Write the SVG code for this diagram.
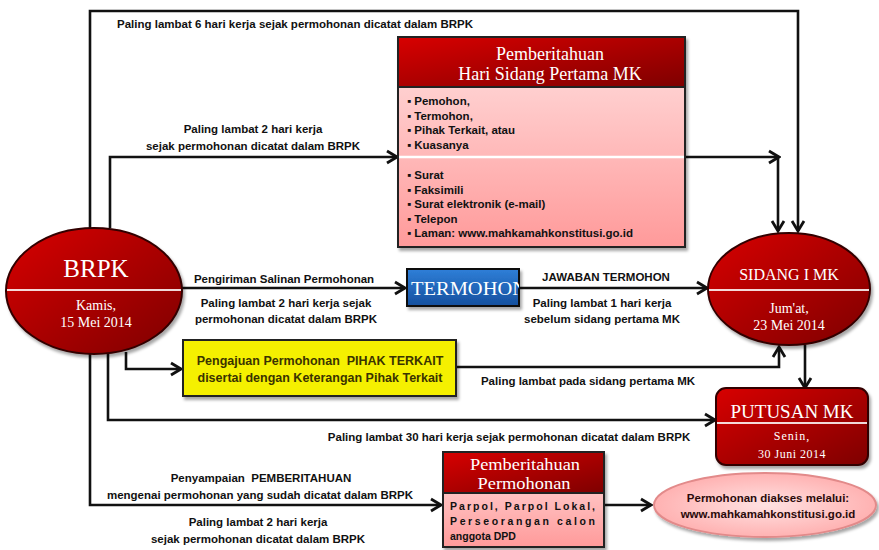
<svg xmlns="http://www.w3.org/2000/svg" width="879" height="550" viewBox="0 0 879 550">
<style>
.lbl{font-family:"Liberation Sans",Arial,sans-serif;font-size:11.5px;font-weight:bold;fill:#111;white-space:pre}
.ser{font-family:"Liberation Serif","Times New Roman",serif;fill:#fff}
.conn{fill:none;stroke:#111;stroke-width:2.6}
.bul{font-family:"Liberation Sans",Arial,sans-serif;font-size:11.5px;font-weight:bold;fill:#111}
</style>
<defs>
<linearGradient id="red" x1="0" y1="0" x2="1" y2="1">
<stop offset="0" stop-color="#d80000"/><stop offset="1" stop-color="#7e0000"/>
</linearGradient>
<linearGradient id="pinkbody" x1="0" y1="0" x2="0" y2="1">
<stop offset="0" stop-color="#ffe0e0"/><stop offset="1" stop-color="#ff9a9a"/>
</linearGradient>
<linearGradient id="blue" x1="0" y1="0" x2="0" y2="1">
<stop offset="0" stop-color="#2f7fd8"/><stop offset="1" stop-color="#154f9e"/>
</linearGradient>
<radialGradient id="pinkell" cx="0.5" cy="0.5" r="0.6">
<stop offset="0" stop-color="#ffe2e2"/><stop offset="1" stop-color="#ffa8a8"/>
</radialGradient>
<filter id="sh" x="-10%" y="-10%" width="125%" height="130%">
<feDropShadow dx="2" dy="3" stdDeviation="1.5" flood-color="#000" flood-opacity="0.35"/>
</filter>
<marker id="arr" markerUnits="userSpaceOnUse" markerWidth="16" markerHeight="16" viewBox="0 0 16 16" refX="14" refY="8" orient="auto">
<path d="M4,2 L14,8 L4,14" fill="none" stroke="#111" stroke-width="2.8"/>
</marker>
<clipPath id="tclip"><rect x="407" y="269" width="112" height="37"/></clipPath>
</defs>

<g id="connectors">
<path class="conn" d="M90,228 V11 H798 V231" marker-end="url(#arr)"/>
<path class="conn" d="M110,228 V157 H397" marker-end="url(#arr)"/>
<path class="conn" d="M686,157 H779" marker-end="url(#arr)"/>
<path class="conn" d="M778,157 V231" marker-end="url(#arr)"/>
<path class="conn" d="M182,288 H405" marker-end="url(#arr)"/>
<path class="conn" d="M520,288 H707" marker-end="url(#arr)"/>
<path class="conn" d="M126,352 V369 H181" marker-end="url(#arr)"/>
<path class="conn" d="M457,367 H779 V347" marker-end="url(#arr)"/>
<path class="conn" d="M108,354 V420 H715" marker-end="url(#arr)"/>
<path class="conn" d="M805,345 V388" marker-end="url(#arr)"/>
<path class="conn" d="M90,354 V505 H441" marker-end="url(#arr)"/>
<path class="conn" d="M604,505 H651" stroke-width="3.5" marker-end="url(#arr)"/>
</g>

<g id="labels">
<text class="lbl" x="117" y="28">Paling lambat 6 hari kerja sejak permohonan dicatat dalam BRPK</text>
<text class="lbl" x="253" y="133" text-anchor="middle">Paling lambat 2 hari kerja</text>
<text class="lbl" x="253" y="150" text-anchor="middle">sejak permohonan dicatat dalam BRPK</text>
<text class="lbl" x="284" y="283" text-anchor="middle">Pengiriman Salinan Permohonan</text>
<text class="lbl" x="286" y="307" text-anchor="middle">Paling lambat 2 hari kerja sejak</text>
<text class="lbl" x="286" y="323" text-anchor="middle">permohonan dicatat dalam BRPK</text>
<text class="lbl" x="606" y="281" text-anchor="middle">JAWABAN TERMOHON</text>
<text class="lbl" x="602" y="307" text-anchor="middle">Paling lambat 1 hari kerja</text>
<text class="lbl" x="602" y="323" text-anchor="middle">sebelum sidang pertama MK</text>
<text class="lbl" x="588" y="385" text-anchor="middle">Paling lambat pada sidang pertama MK</text>
<text class="lbl" x="509" y="441" text-anchor="middle">Paling lambat 30 hari kerja sejak permohonan dicatat dalam BRPK</text>
<text class="lbl" x="261" y="482" text-anchor="middle">Penyampaian  PEMBERITAHUAN</text>
<text class="lbl" x="260" y="499" text-anchor="middle">mengenai permohonan yang sudah dicatat dalam BRPK</text>
<text class="lbl" x="258" y="526" text-anchor="middle">Paling lambat 2 hari kerja</text>
<text class="lbl" x="258" y="543" text-anchor="middle">sejak permohonan dicatat dalam BRPK</text>
</g>

<g id="brpk">
<ellipse cx="94" cy="291" rx="88" ry="63" fill="url(#red)" stroke="#300" stroke-width="2" filter="url(#sh)"/>
<line x1="7" y1="290" x2="181" y2="290" stroke="#fff" stroke-width="2" opacity="0.85"/>
<text class="ser" x="96" y="277" text-anchor="middle" font-size="25">BRPK</text>
<text class="ser" x="96" y="310" text-anchor="middle" font-size="14">Kamis,</text>
<text class="ser" x="96" y="327" text-anchor="middle" font-size="14">15 Mei 2014</text>
</g>

<g id="pemberitahuan-sidang">
<g filter="url(#sh)">
<rect x="398" y="37" width="287" height="210" fill="url(#pinkbody)" stroke="#222" stroke-width="2"/>
<rect x="398" y="37" width="287" height="50" fill="url(#red)" stroke="#222" stroke-width="2"/>
</g>
<line x1="399" y1="157" x2="684" y2="157" stroke="#fff" stroke-width="2.5"/>
<text class="ser" x="550" y="60" text-anchor="middle" font-size="18">Pemberitahuan</text>
<text class="ser" x="550" y="80" text-anchor="middle" font-size="18">Hari Sidang Pertama MK</text>
<g class="bul">
<text x="407" y="105">▪ Pemohon,</text>
<text x="407" y="119.5">▪ Termohon,</text>
<text x="407" y="134">▪ Pihak Terkait, atau</text>
<text x="407" y="148.5">▪ Kuasanya</text>
<text x="407" y="179">▪ Surat</text>
<text x="407" y="193.5">▪ Faksimili</text>
<text x="407" y="208">▪ Surat elektronik (e-mail)</text>
<text x="407" y="222.5">▪ Telepon</text>
<text x="407" y="237">▪ Laman: www.mahkamahkonstitusi.go.id</text>
</g>
</g>

<g id="termohon">
<rect x="407" y="269" width="112" height="37" fill="url(#blue)" stroke="#111" stroke-width="2" filter="url(#sh)"/>
<text class="ser" x="411" y="295" font-size="19" textLength="116" lengthAdjust="spacingAndGlyphs" clip-path="url(#tclip)">TERMOHON</text>
</g>

<g id="pihak-terkait">
<rect x="183" y="340" width="273" height="56" fill="#f5f000" stroke="#222" stroke-width="2" filter="url(#sh)"/>
<text class="lbl" x="320" y="365" text-anchor="middle" style="fill:#3a3300;font-size:12.5px">Pengajuan Permohonan  PIHAK TERKAIT</text>
<text class="lbl" x="320" y="382" text-anchor="middle" style="fill:#3a3300;font-size:12.5px">disertai dengan Keterangan Pihak Terkait</text>
</g>

<g id="sidang">
<ellipse cx="789" cy="289" rx="81" ry="56" fill="url(#red)" stroke="#300" stroke-width="2" filter="url(#sh)"/>
<line x1="709" y1="290" x2="869" y2="290" stroke="#fff" stroke-width="2" opacity="0.85"/>
<text class="ser" x="789" y="280" text-anchor="middle" font-size="16">SIDANG I MK</text>
<text class="ser" x="789" y="313" text-anchor="middle" font-size="14">Jum'at,</text>
<text class="ser" x="789" y="330" text-anchor="middle" font-size="14">23 Mei 2014</text>
</g>

<g id="putusan">
<rect x="716" y="388" width="152" height="77" rx="10" fill="url(#red)" stroke="#300" stroke-width="2" filter="url(#sh)"/>
<line x1="717" y1="423" x2="867" y2="423" stroke="#fff" stroke-width="2" opacity="0.85"/>
<text class="ser" x="792" y="418" text-anchor="middle" font-size="19">PUTUSAN MK</text>
<text class="ser" x="792" y="440" text-anchor="middle" font-size="12" letter-spacing="1">Senin,</text>
<text class="ser" x="792" y="458" text-anchor="middle" font-size="12" letter-spacing="0.5">30 Juni 2014</text>
</g>

<g id="pemberitahuan-permohonan">
<g filter="url(#sh)">
<rect x="443" y="452" width="161" height="95" fill="url(#pinkbody)" stroke="#222" stroke-width="2"/>
<rect x="443" y="452" width="161" height="41" fill="url(#red)" stroke="#222" stroke-width="2"/>
</g>
<text class="ser" x="525" y="470" text-anchor="middle" font-size="17" textLength="110" lengthAdjust="spacingAndGlyphs">Pemberitahuan</text>
<text class="ser" x="524" y="489" text-anchor="middle" font-size="17" textLength="93" lengthAdjust="spacingAndGlyphs">Permohonan</text>
<text class="lbl" x="450" y="510" textLength="145" lengthAdjust="spacing" style="font-size:10.5px">Parpol, Parpol Lokal,</text>
<text class="lbl" x="450" y="525" textLength="145" lengthAdjust="spacing" style="font-size:10.5px">Perseorangan calon</text>
<text class="lbl" x="450" y="540" style="font-size:10.5px">anggota DPD</text>
</g>

<g id="akses">
<ellipse cx="765" cy="505" rx="111" ry="32" fill="url(#pinkell)" stroke="#e28a8a" stroke-width="2" filter="url(#sh)"/>
<text class="lbl" x="768" y="502" text-anchor="middle" style="fill:#2a0a0a">Permohonan diakses melalui:</text>
<text class="lbl" x="768" y="518" text-anchor="middle" style="fill:#2a0a0a">www.mahkamahkonstitusi.go.id</text>
</g>
</svg>
